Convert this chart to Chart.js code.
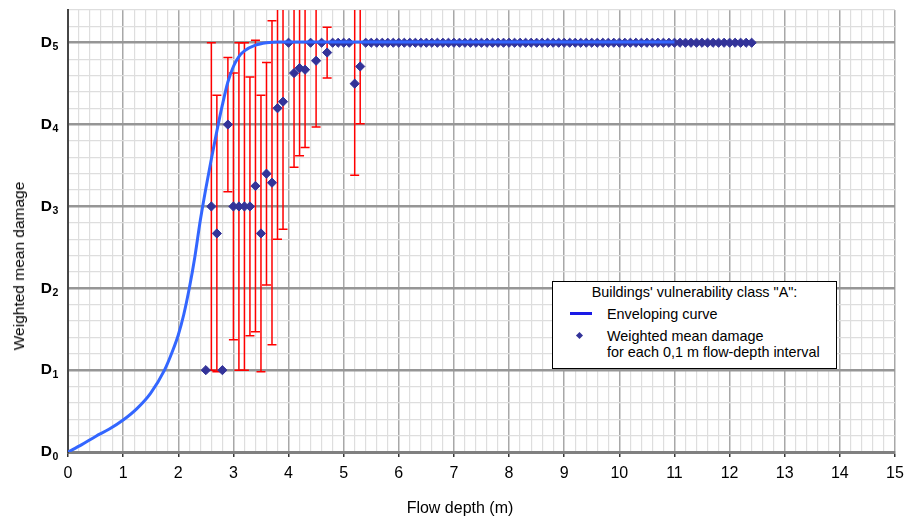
<!DOCTYPE html>
<html>
<head>
<meta charset="utf-8">
<script src="https://cdn.jsdelivr.net/npm/chart.js@4.4.1/dist/chart.umd.min.js"></script>
<style>
    html, body { margin: 0; padding: 0; background: #fff; }
    #wrap { position: relative; width: 904px; height: 520px; font-family: "Liberation Sans", Arial, sans-serif; color: #000; }
    #chart { position: absolute; left: 0; top: 0; }
    .axis-title { position: absolute; white-space: nowrap; }
    #x-title { left: 0; width: 920px; top: 499px; text-align: center; font-size: 16px; line-height: 18px; }
    #y-title { left: 18.5px; top: 266px; font-size: 15.5px; line-height: 18px; transform: translate(-50%, -50%) rotate(-90deg); }
    #legend { position: absolute; left: 552px; top: 281px; width: 283px; height: 86px; border: 1px solid #000; background: #fff; font-size: 14.4px; }
    #legend .row { position: absolute; white-space: nowrap; line-height: 16px; }
    #legend .swatch-line { position: absolute; left: 17px; top: 30px; width: 22px; height: 3px; background: #1a1ae6; }
    #legend .swatch-dot { position: absolute; left: 24px; top: 51px; width: 5px; height: 5px; background: #333399; transform: rotate(45deg); }
</style>
</head>
<body>
<div id="wrap">
    <canvas id="chart" width="904" height="520"></canvas>
    <div id="x-title" class="axis-title">Flow depth (m)</div>
    <div id="y-title" class="axis-title">Weighted mean damage</div>
    <div id="legend">
        <div class="row" style="left:0; width:283px; text-align:center; top:2px;">Buildings' vulnerability class "A":</div>
        <div class="swatch-line"></div>
        <div class="row" style="left:54px; top:24px;">Enveloping curve</div>
        <div class="swatch-dot"></div>
        <div class="row" style="left:54px; top:46px;">Weighted mean damage</div>
        <div class="row" style="left:54px; top:62px;">for each 0,1 m flow-depth interval</div>
    </div>
</div>
<script>
// 每 0.1 m 水深區間的加權平均損害
const depth = [2.5, 2.6, 2.7, 2.8, 2.9, 3.0, 3.1, 3.2, 3.3, 3.4, 3.5, 3.6, 3.7, 3.8, 3.9,
    4.0, 4.1, 4.2, 4.3, 4.4, 4.5, 4.6, 4.7, 4.8, 4.9, 5.0, 5.1, 5.2, 5.3, 5.4, 5.5, 5.6, 5.7, 5.8, 5.9,
    6.0, 6.1, 6.2, 6.3, 6.4, 6.5, 6.6, 6.7, 6.8, 6.9, 7.0, 7.1, 7.2, 7.3, 7.4, 7.5, 7.6, 7.7, 7.8, 7.9,
    8.0, 8.1, 8.2, 8.3, 8.4, 8.5, 8.6, 8.7, 8.8, 8.9, 9.0, 9.1, 9.2, 9.3, 9.4, 9.5, 9.6, 9.7, 9.8, 9.9,
    10.0, 10.1, 10.2, 10.3, 10.4, 10.5, 10.6, 10.7, 10.8, 10.9, 11.0, 11.1, 11.2, 11.3, 11.4, 11.5,
    11.6, 11.7, 11.8, 11.9, 12.0, 12.1, 12.2, 12.3, 12.4];
const damage = [1.0, 3.0, 2.67, 1.0, 4.0, 3.0, 3.0, 3.0, 3.0, 3.25, 2.67, 3.4, 3.29, 4.2, 4.28,
    5.0, 4.63, 4.69, 4.67, 5.0, 4.78, 5.0, 4.88, 5.0, 5.0, 5.0, 5.0, 4.5, 4.71, 5.0, 5.0, 5.0, 5.0, 5.0, 5.0,
    5.0, 5.0, 5.0, 5.0, 5.0, 5.0, 5.0, 5.0, 5.0, 5.0, 5.0, 5.0, 5.0, 5.0, 5.0, 5.0, 5.0, 5.0, 5.0, 5.0,
    5.0, 5.0, 5.0, 5.0, 5.0, 5.0, 5.0, 5.0, 5.0, 5.0, 5.0, 5.0, 5.0, 5.0, 5.0, 5.0, 5.0, 5.0, 5.0, 5.0,
    5.0, 5.0, 5.0, 5.0, 5.0, 5.0, 5.0, 5.0, 5.0, 5.0, 5.0, 5.0, 5.0, 5.0, 5.0, 5.0,
    5.0, 5.0, 5.0, 5.0, 5.0, 5.0, 5.0, 5.0, 5.0];
// 誤差線 (± 標準差)，0 表示沒有誤差線
const spread = [0, 2.0, 1.69, 0, 0.82, 1.63, 2.0, 2.0, 1.58, 1.78, 1.69, 1.36, 1.98, 1.6, 1.56,
    0, 1.15, 1.07, 0.95, 0, 0.81, 0, 0.31, 0, 0, 0, 0, 1.12, 0.70, 0, 0, 0, 0, 0, 0,
    0, 0, 0, 0, 0, 0, 0, 0, 0, 0, 0, 0, 0, 0, 0, 0, 0, 0, 0, 0,
    0, 0, 0, 0, 0, 0, 0, 0, 0, 0, 0, 0, 0, 0, 0, 0, 0, 0, 0, 0,
    0, 0, 0, 0, 0, 0, 0, 0, 0, 0, 0, 0, 0, 0, 0, 0,
    0, 0, 0, 0, 0, 0, 0, 0, 0];

// 包絡曲線
const curveDepth = [0, 0.25, 0.5, 0.75, 1.0, 1.25, 1.5, 1.75, 1.9, 2.0, 2.1, 2.2, 2.3, 2.4, 2.5,
    2.6, 2.7, 2.8, 2.9, 3.0, 3.1, 3.2, 3.4, 3.6, 3.8, 4.0, 11.0];
const curveDamage = [0, 0.09, 0.19, 0.28, 0.39, 0.53, 0.72, 1.0, 1.24, 1.43, 1.68, 2.0, 2.38, 2.83, 3.22,
    3.58, 3.92, 4.24, 4.52, 4.71, 4.83, 4.9, 4.97, 5.0, 5.01, 5.01, 5.01];

// 損害等級 D0 ~ D5 (D + 下標數字)
const damageLevels = ['0', '1', '2', '3', '4', '5'];

const fontFamily = '"Liberation Sans", Arial, sans-serif';

function isWhole(v) {
    return Math.abs(v - Math.round(v)) < 1e-6;
}

// 畫紅色誤差線
const errorBars = {
    id: 'errorBars',
    beforeDatasetsDraw(chart) {
        const { ctx, chartArea, scales: { x, y } } = chart;
        ctx.save();
        ctx.beginPath();
        ctx.rect(chartArea.left, chartArea.top, chartArea.right - chartArea.left, chartArea.bottom - chartArea.top);
        ctx.clip();
        ctx.strokeStyle = '#ff0000';
        ctx.lineWidth = 1.5;
        depth.forEach((d, i) => {
            if (!spread[i]) return;
            const px = x.getPixelForValue(d);
            const top = y.getPixelForValue(damage[i] + spread[i]);
            const bot = y.getPixelForValue(damage[i] - spread[i]);
            ctx.beginPath();
            ctx.moveTo(px, top);
            ctx.lineTo(px, bot);
            ctx.moveTo(px - 4.5, top);
            ctx.lineTo(px + 4.5, top);
            ctx.moveTo(px - 4.5, bot);
            ctx.lineTo(px + 4.5, bot);
            ctx.stroke();
        });
        ctx.restore();
    }
};

// Y 軸標籤的下標數字
const subscripts = {
    id: 'subscripts',
    afterDraw(chart) {
        const { ctx, scales: { y } } = chart;
        ctx.save();
        ctx.fillStyle = '#000';
        ctx.font = 'bold 10.5px ' + fontFamily;
        ctx.textAlign = 'left';
        ctx.textBaseline = 'alphabetic';
        damageLevels.forEach((lvl, i) => {
            ctx.fillText(lvl, y.right - 15.5, y.getPixelForValue(i) + 7.5);
        });
        ctx.restore();
    }
};

new Chart(document.getElementById('chart').getContext('2d'), {
    type: 'scatter',
    data: {
        datasets: [
            {
                label: 'Enveloping curve',
                data: curveDepth.map((d, i) => ({ x: d, y: curveDamage[i] })),
                showLine: true,
                borderColor: '#3366ff',
                borderWidth: 3,
                pointRadius: 0,
                cubicInterpolationMode: 'monotone',
                fill: false
            },
            {
                label: 'Weighted mean damage for each 0,1 m flow-depth interval',
                data: depth.map((d, i) => ({ x: d, y: damage[i] })),
                pointStyle: 'rectRot',
                pointRadius: 4.6,
                backgroundColor: '#333399',
                borderColor: '#333399',
                borderWidth: 1
            }
        ]
    },
    plugins: [errorBars, subscripts],
    options: {
        responsive: false,
        animation: false,
        devicePixelRatio: 1,
        layout: { padding: { left: 0, right: 9, top: 10, bottom: 0 } },
        plugins: {
            legend: { display: false },
            tooltip: { enabled: false }
        },
        scales: {
            x: {
                type: 'linear',
                min: 0,
                max: 15,
                afterFit: (scale) => {
                    scale.height = 68;
                    scale.paddingLeft = 0;
                    scale.paddingRight = 0;
                },
                ticks: {
                    stepSize: 0.2,
                    autoSkip: false,
                    maxRotation: 0,
                    padding: 7,
                    color: '#000',
                    font: { family: fontFamily, size: 16 },
                    callback: (v) => isWhole(v) ? String(Math.round(v)) : ''
                },
                grid: {
                    color: (c) => isWhole(c.tick.value) ? 'rgb(168,168,168)' : 'rgb(222,222,222)',
                    lineWidth: (c) => isWhole(c.tick.value) ? 1.5 : 1.2,
                    tickColor: (c) => isWhole(c.tick.value) ? '#333' : 'rgba(0,0,0,0)',
                    tickWidth: 1.5,
                    tickLength: 5
                },
                border: { color: 'rgb(128,128,128)', width: 3 }
            },
            y: {
                type: 'linear',
                min: 0,
                max: 5.4,
                afterFit: (scale) => {
                    scale.width = 68;
                    scale.paddingTop = 0;
                    scale.paddingBottom = 0;
                },
                ticks: {
                    stepSize: 0.2,
                    autoSkip: false,
                    padding: 16,
                    color: '#000',
                    font: { family: fontFamily, size: 15.5, weight: 'bold' },
                    callback: (v) => isWhole(v) ? 'D' : ''
                },
                grid: {
                    color: (c) => isWhole(c.tick.value) ? 'rgb(150,150,150)' : 'rgb(222,222,222)',
                    lineWidth: (c) => isWhole(c.tick.value) ? 2.5 : 1.2,
                    drawTicks: false
                },
                border: { color: 'rgb(70,70,70)', width: 2 }
            }
        }
    }
});
</script>
</body>
</html>
